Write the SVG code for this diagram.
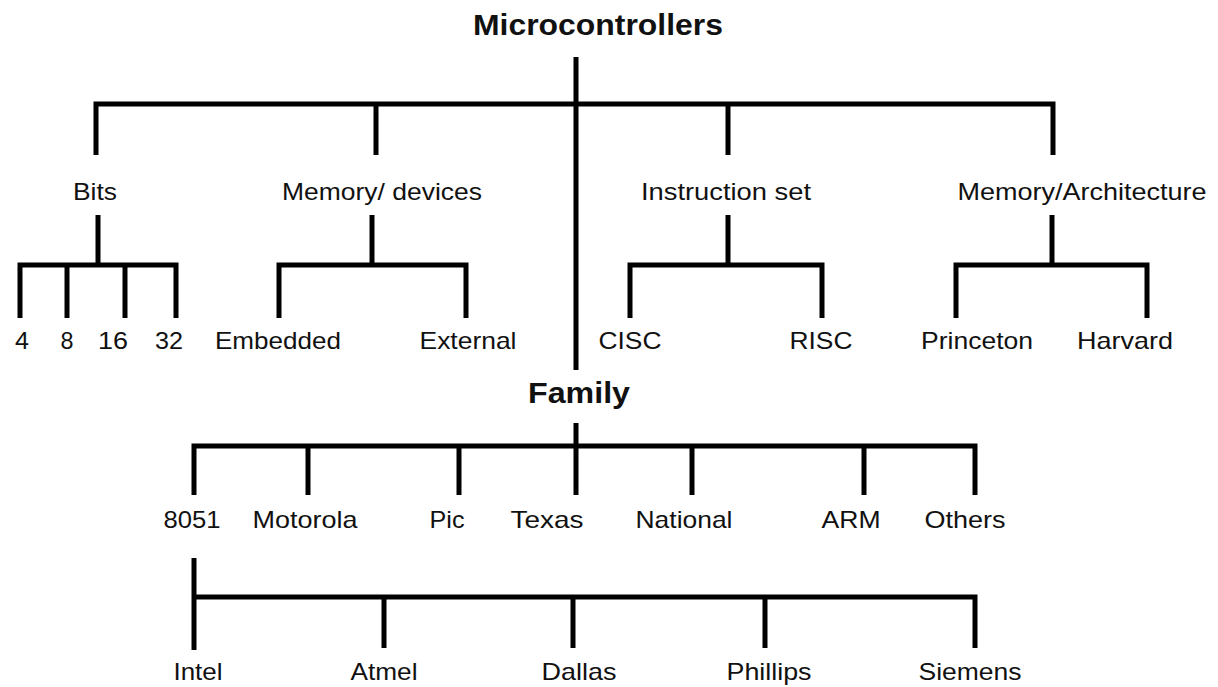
<svg xmlns="http://www.w3.org/2000/svg" width="1218" height="687" viewBox="0 0 1218 687">
<style>
.bg{fill:#ffffff}
.c{fill:none;stroke:#000;stroke-width:5;stroke-linejoin:miter;stroke-linecap:butt}
.t{font-family:"Liberation Sans",Arial,sans-serif;font-size:24px;fill:#111;text-anchor:middle}
.h{font-family:"Liberation Sans",Arial,sans-serif;font-size:29px;font-weight:bold;fill:#111;text-anchor:middle}
</style>
<rect class="bg" x="0" y="0" width="1218" height="687"/>
<g id="connectors">
<path class="c" d="M576 57V370"/>
<path class="c" d="M96 155V104H1053V155"/>
<path class="c" d="M376 104V155"/>
<path class="c" d="M728 104V155"/>
<path class="c" d="M98 215V265"/>
<path class="c" d="M20 318V265H176V318"/>
<path class="c" d="M67 265V318"/>
<path class="c" d="M125 265V318"/>
<path class="c" d="M372 215V265"/>
<path class="c" d="M279 318V265H466V318"/>
<path class="c" d="M728 215V265"/>
<path class="c" d="M630 318V265H822V318"/>
<path class="c" d="M1052 215V265"/>
<path class="c" d="M956 318V265H1147V318"/>
<path class="c" d="M576 423V446"/>
<path class="c" d="M194 495V446H975V495"/>
<path class="c" d="M308 446V495"/>
<path class="c" d="M459 446V495"/>
<path class="c" d="M576 446V495"/>
<path class="c" d="M692 446V495"/>
<path class="c" d="M864 446V495"/>
<path class="c" d="M194 558V650"/>
<path class="c" d="M194 597H975V648"/>
<path class="c" d="M384 597V648"/>
<path class="c" d="M573 597V648"/>
<path class="c" d="M765 597V648"/>
</g>
<g id="microcontrollers"><text class="h" x="598" y="35" textLength="250" lengthAdjust="spacingAndGlyphs">Microcontrollers</text></g>
<g id="bits"><text class="t" x="95" y="200" textLength="44" lengthAdjust="spacingAndGlyphs">Bits</text></g>
<g id="memory-devices"><text class="t" x="382" y="200" textLength="200" lengthAdjust="spacingAndGlyphs">Memory/ devices</text></g>
<g id="instruction-set"><text class="t" x="726" y="200" textLength="170" lengthAdjust="spacingAndGlyphs">Instruction set</text></g>
<g id="memory-architecture"><text class="t" x="1082" y="200" textLength="249" lengthAdjust="spacingAndGlyphs">Memory/Architecture</text></g>
<g id="bits-4"><text class="t" x="22" y="349" textLength="14" lengthAdjust="spacingAndGlyphs">4</text></g>
<g id="bits-8"><text class="t" x="67" y="349" textLength="13" lengthAdjust="spacingAndGlyphs">8</text></g>
<g id="bits-16"><text class="t" x="113" y="349" textLength="30" lengthAdjust="spacingAndGlyphs">16</text></g>
<g id="bits-32"><text class="t" x="169" y="349" textLength="28" lengthAdjust="spacingAndGlyphs">32</text></g>
<g id="embedded"><text class="t" x="278" y="349" textLength="126" lengthAdjust="spacingAndGlyphs">Embedded</text></g>
<g id="external"><text class="t" x="468" y="349" textLength="97" lengthAdjust="spacingAndGlyphs">External</text></g>
<g id="cisc"><text class="t" x="630" y="349" textLength="63" lengthAdjust="spacingAndGlyphs">CISC</text></g>
<g id="risc"><text class="t" x="821" y="349" textLength="63" lengthAdjust="spacingAndGlyphs">RISC</text></g>
<g id="princeton"><text class="t" x="977" y="349" textLength="112" lengthAdjust="spacingAndGlyphs">Princeton</text></g>
<g id="harvard"><text class="t" x="1125" y="349" textLength="96" lengthAdjust="spacingAndGlyphs">Harvard</text></g>
<g id="family"><text class="h" x="579" y="403" textLength="102" lengthAdjust="spacingAndGlyphs">Family</text></g>
<g id="f8051"><text class="t" x="192" y="528" textLength="57" lengthAdjust="spacingAndGlyphs">8051</text></g>
<g id="motorola"><text class="t" x="305" y="528" textLength="105" lengthAdjust="spacingAndGlyphs">Motorola</text></g>
<g id="pic"><text class="t" x="447" y="528" textLength="35" lengthAdjust="spacingAndGlyphs">Pic</text></g>
<g id="texas"><text class="t" x="547" y="528" textLength="73" lengthAdjust="spacingAndGlyphs">Texas</text></g>
<g id="national"><text class="t" x="684" y="528" textLength="97" lengthAdjust="spacingAndGlyphs">National</text></g>
<g id="arm"><text class="t" x="851" y="528" textLength="59" lengthAdjust="spacingAndGlyphs">ARM</text></g>
<g id="others"><text class="t" x="965" y="528" textLength="81" lengthAdjust="spacingAndGlyphs">Others</text></g>
<g id="intel"><text class="t" x="198" y="680" textLength="49" lengthAdjust="spacingAndGlyphs">Intel</text></g>
<g id="atmel"><text class="t" x="384" y="680" textLength="67" lengthAdjust="spacingAndGlyphs">Atmel</text></g>
<g id="dallas"><text class="t" x="579" y="680" textLength="75" lengthAdjust="spacingAndGlyphs">Dallas</text></g>
<g id="phillips"><text class="t" x="769" y="680" textLength="85" lengthAdjust="spacingAndGlyphs">Phillips</text></g>
<g id="siemens"><text class="t" x="970" y="680" textLength="103" lengthAdjust="spacingAndGlyphs">Siemens</text></g>
</svg>
